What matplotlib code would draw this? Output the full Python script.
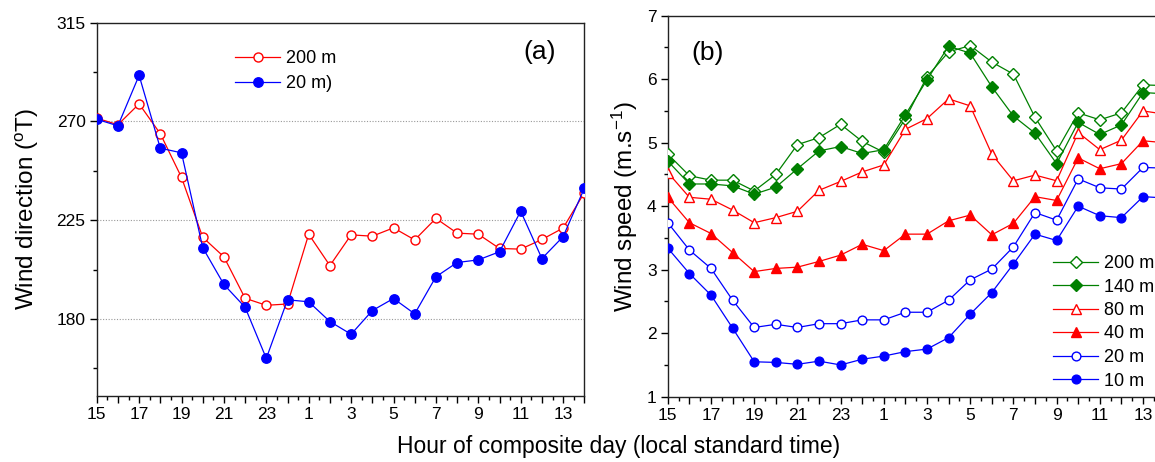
import matplotlib
matplotlib.use("Agg")
import matplotlib.pyplot as plt
from matplotlib.ticker import MultipleLocator, FixedLocator, FixedFormatter

plt.rcParams['font.family'] = ['Liberation Sans', 'DejaVu Sans']
plt.rcParams['mathtext.fontset'] = 'custom'
plt.rcParams['mathtext.rm'] = 'Liberation Sans'
plt.rcParams['mathtext.it'] = 'Liberation Sans:italic'
plt.rcParams['mathtext.bf'] = 'Liberation Sans:bold'

hours = [15, 16, 17, 18, 19, 20, 21, 22, 23, 0, 1, 2, 3, 4, 5, 6, 7, 8, 9, 10, 11, 12, 13, 14]

# Panel (a): wind direction (deg T)
dir_200 = [271.5, 268.5, 278, 264.4, 244.5, 217.2, 208.3, 189.4, 186.2, 186.8, 218.6, 204.3,
           218.3, 217.7, 221.5, 216, 225.8, 219.1, 218.6, 212.1, 211.8, 216.2, 221.4, 237.5]
dir_20 = [271, 268, 291, 257.8, 255.7, 212.5, 195.7, 185.3, 162, 188.7, 187.8, 178.8,
          173, 183.8, 189.3, 182.3, 199.2, 205.7, 206.9, 210.6, 229.1, 207.5, 217.5, 239.5]

# Panel (b): wind speed (m/s)
ws_200 = [4.82, 4.48, 4.41, 4.41, 4.24, 4.50, 4.97, 5.08, 5.29, 5.02, 4.85, 5.38,
          6.04, 6.43, 6.53, 6.27, 6.08, 5.40, 4.87, 5.47, 5.36, 5.47, 5.91, 5.90]
ws_140 = [4.71, 4.35, 4.35, 4.32, 4.19, 4.30, 4.59, 4.87, 4.94, 4.83, 4.89, 5.44,
          5.99, 6.52, 6.41, 5.88, 5.42, 5.15, 4.67, 5.32, 5.13, 5.28, 5.79, 5.77]
ws_80 = [4.53, 4.14, 4.11, 3.94, 3.74, 3.82, 3.92, 4.25, 4.39, 4.54, 4.65, 5.21,
         5.38, 5.69, 5.58, 4.82, 4.40, 4.49, 4.40, 5.16, 4.89, 5.04, 5.50, 5.45]
ws_40 = [4.14, 3.74, 3.57, 3.27, 2.97, 3.02, 3.04, 3.13, 3.23, 3.40, 3.30, 3.56,
         3.56, 3.77, 3.86, 3.55, 3.73, 4.15, 4.09, 4.76, 4.59, 4.67, 5.03, 5.00]
ws_20 = [3.74, 3.31, 3.02, 2.52, 2.09, 2.14, 2.09, 2.15, 2.15, 2.21, 2.21, 2.33,
         2.33, 2.52, 2.84, 3.01, 3.36, 3.90, 3.78, 4.43, 4.29, 4.27, 4.61, 4.60]
ws_10 = [3.34, 2.94, 2.60, 2.08, 1.55, 1.54, 1.51, 1.56, 1.50, 1.59, 1.64, 1.71,
         1.75, 1.93, 2.30, 2.64, 3.09, 3.56, 3.46, 4.00, 3.85, 3.82, 4.15, 4.13]

x = list(range(len(hours)))
tick_labels = [str(h) if i % 2 == 0 else '' for i, h in enumerate(hours)]

RED = '#FF0000'
BLUE = '#0000FF'
GREEN = '#008000'

W, H = 1155, 462
fig = plt.figure(figsize=(W / 100, H / 100), dpi=100)

ax1 = fig.add_axes([96.7 / W, 1 - 395.7 / H, (584.3 - 96.7) / W, (395.7 - 22.7) / H])
ax2 = fig.add_axes([667.8 / W, 1 - 396.7 / H, 23 * 21.6 / W, (396.7 - 15.7) / H])


def style_axis(ax):
    ax.xaxis.set_major_locator(FixedLocator(x))
    ax.xaxis.set_major_formatter(FixedFormatter(tick_labels))
    ax.xaxis.set_minor_locator(MultipleLocator(0.5))
    ax.tick_params(axis='both', which='major', direction='out', length=5, width=1,
                   labelsize=12.5, pad=3)
    ax.tick_params(axis='both', which='minor', direction='out', length=3, width=1)
    for s in ax.spines.values():
        s.set_linewidth(1.0)
        s.set_color('#222222')


# Panel (a)
ax1.plot(x, dir_200, '-o', color=RED, mfc='white', mec=RED, ms=6.5, lw=0.9, mew=1.0,
         label='200 m', zorder=3)
ax1.plot(x, dir_20, '-o', color=BLUE, mfc=BLUE, mec=BLUE, ms=6.8, lw=0.9,
         label='20 m)', zorder=3)
ax1.set_xlim(0, 23)
ax1.set_ylim(145, 315)
ax1.yaxis.set_major_locator(FixedLocator([180, 225, 270, 315]))
ax1.yaxis.set_minor_locator(FixedLocator([157.5, 202.5, 247.5, 292.5]))
for yv in [180, 225, 270]:
    ax1.axhline(yv, color='#999999', lw=0.8, ls=(0, (1, 1.5)), zorder=1)
style_axis(ax1)
ax1.set_ylabel(r'Wind direction ($^{\rm o}$T)', fontsize=17.5, labelpad=11)
fig.text(540 / W, 1 - 52 / H, '(a)', fontsize=19, ha='center', va='center')
ax1.legend(loc='upper left', bbox_to_anchor=(235 / W, 1 - 50 / H),
           bbox_transform=fig.transFigure, frameon=False,
           fontsize=13, handlelength=2.5, handletextpad=0.3, labelspacing=0.45,
           borderaxespad=0, borderpad=0)

# Panel (b)
series = [
    (ws_200, 'D', 'white', GREEN, '200 m', 6.0),
    (ws_140, 'D', GREEN, GREEN, '140 m', 6.0),
    (ws_80, '^', 'white', RED, '80 m', 6.8),
    (ws_40, '^', RED, RED, '40 m', 6.8),
    (ws_20, 'o', 'white', BLUE, '20 m', 6.3),
    (ws_10, 'o', BLUE, BLUE, '10 m', 6.3),
]
for vals, mk, fc, col, lab, ms in series:
    ax2.plot(x, vals, '-', marker=mk, color=col, mfc=fc, mec=col, ms=ms, lw=0.9,
             mew=1.0, label=lab, zorder=3)
ax2.set_xlim(0, 23)
ax2.set_ylim(1, 7)
ax2.yaxis.set_major_locator(MultipleLocator(1))
ax2.yaxis.set_minor_locator(MultipleLocator(0.5))
style_axis(ax2)
ax2.set_ylabel(r'Wind speed (m.s$^{-1}$)', fontsize=17.5, labelpad=5)
fig.text(708 / W, 1 - 53 / H, '(b)', fontsize=19, ha='center', va='center')
ax2.legend(loc='upper left', bbox_to_anchor=(1053 / W, 1 - 255 / H),
           bbox_transform=fig.transFigure, frameon=False, fontsize=13,
           handlelength=2.5, handletextpad=0.3, labelspacing=0.36, borderaxespad=0,
           borderpad=0)

fig.text(619 / W, 1 - 447 / H, 'Hour of composite day (local standard time)',
         fontsize=16.5, ha='center', va='center')

fig.savefig('out.png', dpi=100)
